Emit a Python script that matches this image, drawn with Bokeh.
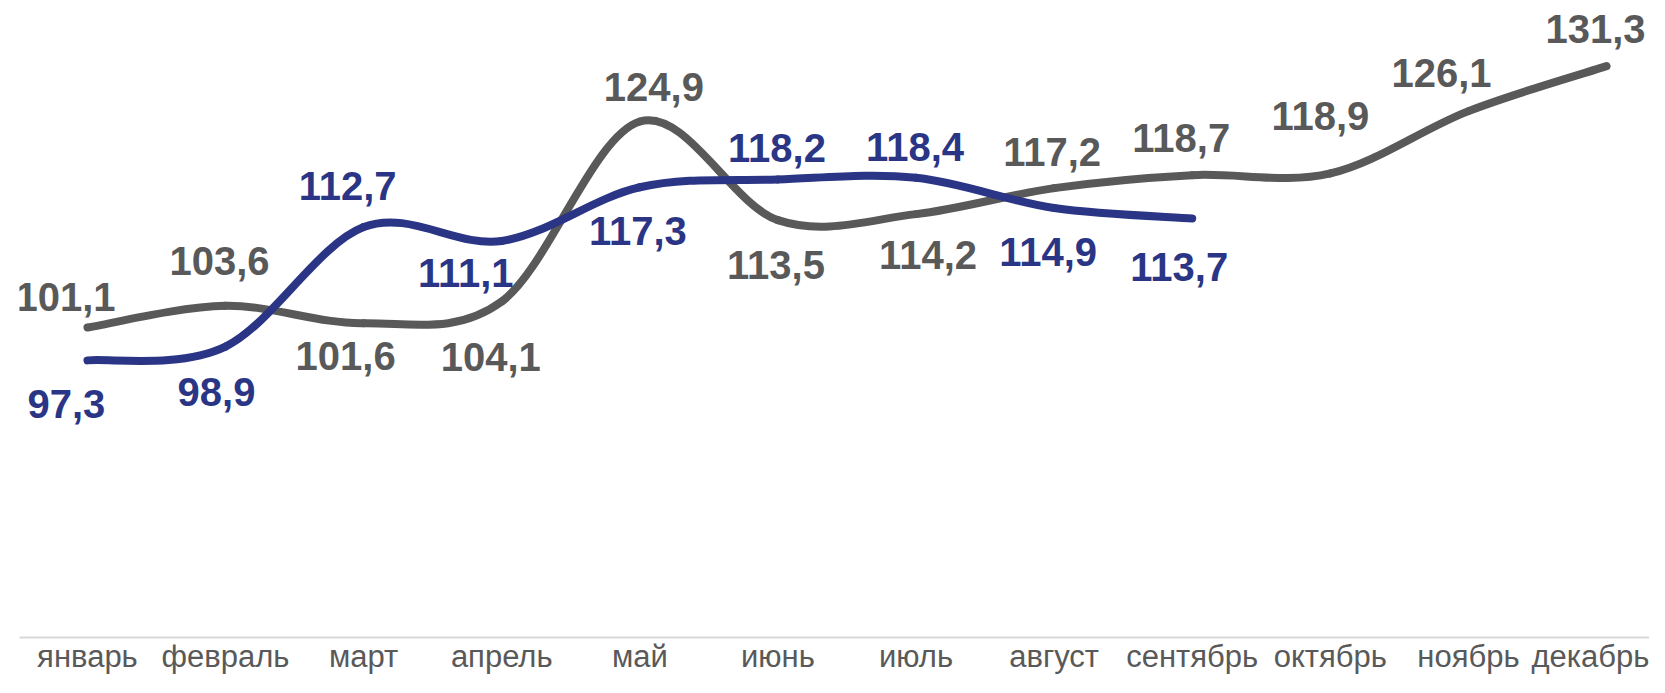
from bokeh.plotting import figure
from bokeh.models import Range1d, ColumnDataSource, LabelSet
from bokeh.core.properties import value
from bokeh.embed import file_html
from bokeh.resources import INLINE

months = ["январь", "февраль", "март", "апрель", "май", "июнь",
          "июль", "август", "сентябрь", "октябрь", "ноябрь", "декабрь"]
series_gray = [101.1, 103.6, 101.6, 104.1, 124.9, 113.5, 114.2, 117.2, 118.7, 118.9, 126.1, 131.3]
series_blue = [97.3, 98.9, 112.7, 111.1, 117.3, 118.2, 118.4, 114.9, 113.7]

GRAY = "#595959"
BLUE = "#2a3685"
FONT = "Liberation Sans"

# label placement (screen px; dx right, dy down)
gray_label_dx = [-22, -6, -18, -11, 14, -2, 12, -2, -11, -10, -27, -11]
gray_label_dy = [-30, -45, 33, 55, -34, 45, 41, -36, -37, -57, -38, -37]
blue_label_dx = [-21, -9, -16, -36, -2, -1, -1, -6, -13]
blue_label_dy = [44, 45, -41, 32, 44, -31, -31, 44, 49]

p = figure(width=1649, height=677, output_backend="svg", toolbar_location=None,
           x_range=Range1d(-0.492, 11.311), y_range=Range1d(65.28, 138.88),
           min_border_left=19, min_border_right=0, min_border_top=0, min_border_bottom=40)
p.outline_line_color = None
p.background_fill_color = "white"
p.border_fill_color = "white"
p.xgrid.visible = False
p.ygrid.visible = False
p.yaxis.visible = False

ax = p.xaxis[0]
ax.ticker = list(range(len(months)))
ax.major_label_overrides = {i: m for i, m in enumerate(months)}
ax.axis_line_color = "#d9d9d9"
ax.axis_line_width = 2
ax.major_tick_line_color = None
ax.minor_tick_line_color = None
ax.major_tick_out = 0
ax.major_tick_in = 0
ax.major_label_standoff = 1
ax.major_label_text_font = FONT
ax.major_label_text_font_size = "31px"
ax.major_label_text_color = GRAY


def smooth_segments(vals):
    n = len(vals)
    xs = list(range(n))
    P = list(zip(xs, vals))
    x0, y0, x1, y1, cx0, cy0, cx1, cy1 = ([] for _ in range(8))
    for i in range(n - 1):
        pm = P[max(i - 1, 0)]
        pa = P[i]
        pb = P[i + 1]
        pn = P[min(i + 2, n - 1)]
        x0.append(pa[0]); y0.append(pa[1])
        x1.append(pb[0]); y1.append(pb[1])
        cx0.append(pa[0] + (pb[0] - pm[0]) / 6.0)
        cy0.append(pa[1] + (pb[1] - pm[1]) / 6.0)
        cx1.append(pb[0] - (pn[0] - pa[0]) / 6.0)
        cy1.append(pb[1] - (pn[1] - pa[1]) / 6.0)
    return ColumnDataSource(dict(x0=x0, y0=y0, x1=x1, y1=y1,
                                 cx0=cx0, cy0=cy0, cx1=cx1, cy1=cy1))


for vals, col in [(series_gray, GRAY), (series_blue, BLUE)]:
    src = smooth_segments(vals)
    p.bezier(x0="x0", y0="y0", x1="x1", y1="y1", cx0="cx0", cy0="cy0",
             cx1="cx1", cy1="cy1", source=src, line_color=col, line_width=8,
             line_cap="round")


def labels(vals, dx, dy, col):
    src = ColumnDataSource(dict(
        x=list(range(len(vals))), y=vals,
        t=[f"{v:.1f}".replace(".", ",") for v in vals],
        dx=dx, dy=[-d for d in dy]))
    ls = LabelSet(x="x", y="y", text="t", source=src, x_offset="dx", y_offset="dy",
                  text_align="center", text_baseline="middle",
                  text_font=value(FONT), text_font_style="bold",
                  text_font_size=value("40px"), text_color=col)
    p.add_layout(ls)


labels(series_gray, gray_label_dx, gray_label_dy, GRAY)
labels(series_blue, blue_label_dx, blue_label_dy, BLUE)

open("out.html", "w").write(file_html(p, INLINE))
